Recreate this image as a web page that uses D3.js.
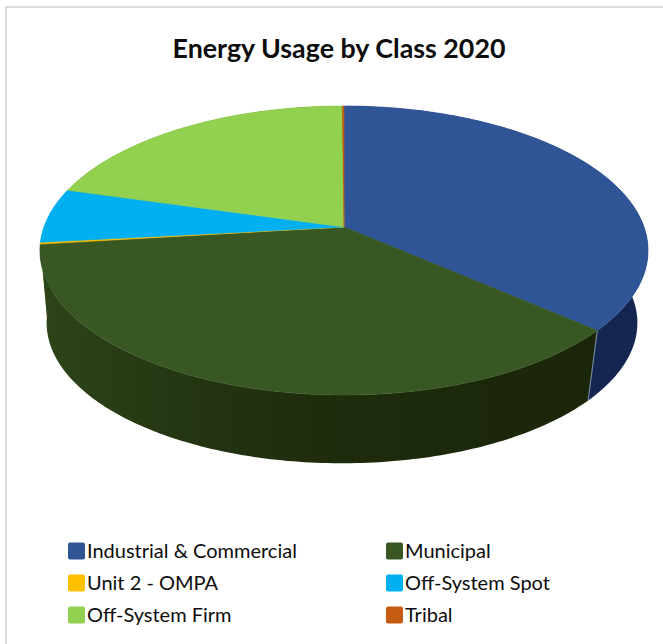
<!DOCTYPE html>
<html>
<head>
<meta charset="utf-8">
<script src="https://cdn.jsdelivr.net/npm/d3@7/dist/d3.min.js"></script>
<style>
  html, body { margin: 0; padding: 0; background: #fff; }
  svg { display: block; }
  text { font-family: Lato, "Open Sans", sans-serif; fill: #0d0d0d; }
</style>
</head>
<body>
<svg id="chart" width="663" height="644"></svg>
<script>
// Share of energy by class, percent of the total
const categories = ["Industrial & Commercial", "Municipal", "Unit 2 - OMPA", "Off-System Spot", "Off-System Firm", "Tribal"];
const shares = [36.4, 36.7, 0.2, 6.1, 20.5, 0.1];
const topColors = ["#2f5597", "#385723", "#ffc000", "#00b0f0", "#92d050", "#c55a11"];
const wallColors = ["#14264f", "#1a2409", "#7f6000", "#005a80", "#4a7020", "#602c08"];
const chartTitle = "Energy Usage by Class 2020";

const svg = d3.select("#chart");

// Frame along the top and left of the card
svg.append("path").attr("d", "M6,644V7H663")
  .attr("fill", "none").attr("stroke", "#dcdcdc").attr("stroke-width", 2);

svg.append("text").attr("x", 339).attr("y", 58).attr("text-anchor", "middle")
  .attr("font-size", 26.8).attr("font-weight", 700).text(chartTitle);

// Perspective view of the pie's upper disc: unit circle -> page
const cx = 344, persp = 0.1626;
const planeTop = (u, v) => {
  const w = 1 - persp * v;
  return [cx + 300 * u / w, (227 + 103.8 * v) / w];
};
// The lower disc is the upper one pulled toward a distant vanishing point
const vanishY = 2790, shrink = 0.0285, lowerShiftX = -2;
const planeBottom = (u, v) => {
  const [x, y] = planeTop(u, v);
  return [x + (cx - x) * shrink + lowerShiftX, y + (vanishY - y) * shrink];
};
const onDisc = (plane, a) => plane(Math.sin(a), -Math.cos(a));

const arcs = d3.pie().sort(null).value(d => d)(shares);
const line = d3.line();
const stepsFor = (a0, a1) => d3.range(0, 1.0001, 1 / Math.max(2, Math.ceil((a1 - a0) * 60)))
  .map(t => a0 + (a1 - a0) * t);

// Horizontal shading for each wall, lighter toward the left
const defs = svg.append("defs");
const shade = d3.scaleLinear().domain([40, 300, 640]).range([0.62, 0.15, 0]);
categories.forEach((_, i) => {
  const g = defs.append("linearGradient").attr("id", "wall" + i)
    .attr("gradientUnits", "userSpaceOnUse")
    .attr("x1", 40).attr("x2", 640).attr("y1", 0).attr("y2", 0);
  d3.range(40, 641, 100).forEach(x => {
    g.append("stop").attr("offset", (x - 40) / 600)
      .attr("stop-color", d3.interpolateRgb(wallColors[i], topColors[i])(shade(x)));
  });
});

// Walls back to front, then the upper disc covers anything hidden
svg.append("g").selectAll("path").data(arcs.map((d, i) => ({ ...d, i })).reverse()).join("path")
  .attr("d", d => {
    const steps = stepsFor(d.startAngle, d.endAngle);
    const pts = steps.map(a => onDisc(planeTop, a))
      .concat(steps.slice().reverse().map(a => onDisc(planeBottom, a)));
    return line(pts) + "Z";
  })
  .attr("fill", d => `url(#wall${d.i})`);

// Pale seam where the Industrial and Municipal walls meet
const seam = arcs[0].endAngle;
svg.append("path")
  .attr("d", line([onDisc(planeTop, seam), onDisc(planeBottom, seam)]))
  .attr("stroke", "#6f8296").attr("stroke-width", 1.2).attr("fill", "none");

svg.append("g").selectAll("path").data(arcs).join("path")
  .attr("d", d => {
    const pts = stepsFor(d.startAngle, d.endAngle).map(a => onDisc(planeTop, a));
    return line([planeTop(0, 0), ...pts]) + "Z";
  })
  .attr("fill", (d, i) => topColors[i])
  .attr("stroke", (d, i) => topColors[i])
  .attr("stroke-width", 0.6);

// Legend: two columns, three rows
const colX = d3.scaleOrdinal().domain([0, 1]).range([68, 386]);
const rowY = d3.scaleOrdinal().domain([0, 1, 2]).range([551, 583, 615]);
const legend = svg.append("g").selectAll("g").data(categories).join("g")
  .attr("transform", (d, i) => `translate(${colX(i % 2)},${rowY(Math.floor(i / 2))})`);
legend.append("rect").attr("x", 0).attr("y", -8.5).attr("width", 17).attr("height", 17).attr("rx", 2)
  .attr("fill", (d, i) => topColors[i]);
legend.append("text").attr("x", 19).attr("y", 6.5).attr("font-size", 20).text(d => d);
</script>
</body>
</html>
